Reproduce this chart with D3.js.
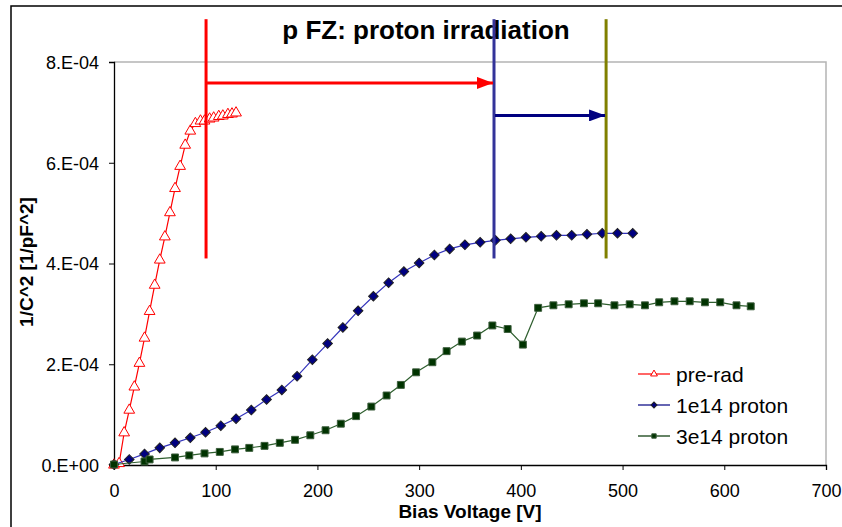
<!DOCTYPE html>
<html>
<head>
<meta charset="utf-8">
<script src="https://cdn.jsdelivr.net/npm/d3@7"></script>
<style>
  body { margin: 0; background: #fff; }
  svg text { font-family: Arial, "Liberation Sans", sans-serif; }
</style>
</head>
<body>
<div id="chart"></div>
<script>
// data (voltage in V, 1/C^2 in 1/pF^2)
const preRadV = [0, 5, 10, 15, 20, 25, 30, 35, 40, 45, 50, 55, 60, 65, 70, 75, 80, 85, 89, 94, 98, 103, 107, 112, 116, 120];
const preRadC = [0, 0.03e-4, 0.64e-4, 1.09e-4, 1.55e-4, 2.02e-4, 2.52e-4, 3.05e-4, 3.57e-4, 4.07e-4, 4.53e-4, 5.01e-4, 5.49e-4,
  5.93e-4, 6.35e-4, 6.63e-4, 6.78e-4, 6.83e-4, 6.83e-4, 6.87e-4, 6.89e-4, 6.92e-4, 6.93e-4, 6.96e-4, 6.97e-4, 6.99e-4];

const p1e14V = [0, 15, 30, 45, 60, 75, 90, 105, 120, 135, 150, 165, 180, 195, 210, 225, 240, 255, 270, 285, 300, 315, 330,
  345, 360, 375, 390, 405, 420, 435, 450, 465, 480, 495, 510];
const p1e14C = [0.01e-4, 0.11e-4, 0.22e-4, 0.34e-4, 0.44e-4, 0.54e-4, 0.65e-4, 0.78e-4, 0.92e-4, 1.09e-4, 1.30e-4, 1.49e-4,
  1.76e-4, 2.09e-4, 2.41e-4, 2.73e-4, 3.06e-4, 3.35e-4, 3.62e-4, 3.84e-4, 4.01e-4, 4.17e-4, 4.29e-4, 4.37e-4, 4.42e-4,
  4.46e-4, 4.49e-4, 4.52e-4, 4.54e-4, 4.56e-4, 4.56e-4, 4.58e-4, 4.60e-4, 4.60e-4, 4.60e-4];

const p3e14V = [0, 30, 35, 60, 74, 89, 104, 119, 133, 148, 163, 178, 193, 208, 223, 238, 253, 268, 282, 297, 313, 327, 342,
  357, 372, 387, 402, 417, 432, 447, 462, 476, 492, 507, 522, 536, 551, 566, 581, 596, 612, 626];
const p3e14C = [0.01e-4, 0.07e-4, 0.11e-4, 0.15e-4, 0.19e-4, 0.23e-4, 0.26e-4, 0.31e-4, 0.34e-4, 0.38e-4, 0.44e-4, 0.50e-4,
  0.59e-4, 0.69e-4, 0.82e-4, 0.97e-4, 1.16e-4, 1.38e-4, 1.59e-4, 1.84e-4, 2.04e-4, 2.26e-4, 2.45e-4, 2.57e-4, 2.77e-4,
  2.70e-4, 2.39e-4, 3.12e-4, 3.17e-4, 3.19e-4, 3.21e-4, 3.21e-4, 3.17e-4, 3.19e-4, 3.17e-4, 3.23e-4, 3.25e-4, 3.25e-4,
  3.23e-4, 3.23e-4, 3.17e-4, 3.15e-4];

const xTicks = [0, 100, 200, 300, 400, 500, 600, 700];
const yTicks = [0, 2e-4, 4e-4, 6e-4, 8e-4];
const seriesNames = ["pre-rad", "1e14 proton", "3e14 proton"];

// depletion markers drawn on top (voltage, line ends in 1/pF^2)
const depletionV = [90.5, 373.6, 483.8];
const depletionColors = ["#ff0000", "#333399", "#808000"];
const depletionSpan = [4.1e-4, 8.85e-4];
const arrowLevels = [7.585e-4, 6.94e-4];
const arrowColors = ["#ff0000", "#000080"];

const width = 842, height = 527;
const margins = { top: 62, right: 16, bottom: 62, left: 114 };

const x = d3.scaleLinear().domain([0, 700]).range([margins.left, width - margins.right]);
const y = d3.scaleLinear().domain([0, 8e-4]).range([height - margins.bottom, margins.top]);

const fmtE = d => {
  const [m, e] = d.toExponential(0).split("e");
  const sign = e[0] === "-" ? "-" : "+";
  return m + ".E" + sign + String(Math.abs(+e)).padStart(2, "0");
};

const svg = d3.select("#chart").append("svg")
  .attr("width", width)
  .attr("height", height);

// chart area frame
svg.append("rect")
  .attr("x", 11).attr("y", 6)
  .attr("width", width + 20).attr("height", height + 20)
  .attr("fill", "none").attr("stroke", "#000").attr("stroke-width", 1.5);

// plot area border (top/right grey)
svg.append("path")
  .attr("d", `M${x(0)},${y(8e-4)}H${x(700)}V${y(0)}`)
  .attr("fill", "none").attr("stroke", "#b4b4b4").attr("stroke-width", 1.5);

// axes
const xAxis = svg.append("g")
  .attr("transform", `translate(0,${y(0)})`)
  .call(d3.axisBottom(x).tickValues(xTicks).tickSize(5).tickPadding(14).tickFormat(d3.format("d")));
const yAxis = svg.append("g")
  .attr("transform", `translate(${x(0)},0)`)
  .call(d3.axisLeft(y).tickValues(yTicks).tickSize(5).tickPadding(10).tickFormat(fmtE));
[xAxis, yAxis].forEach(g => {
  g.select(".domain").attr("stroke", "#000").attr("stroke-width", 1.3);
  g.selectAll(".tick line").attr("stroke", "#000");
  g.selectAll(".tick text").attr("font-size", 18).attr("fill", "#000")
    .style("font-family", "Arial, 'Liberation Sans', sans-serif");
});
yAxis.selectAll(".tick text").attr("dy", "0.36em");

// axis titles
svg.append("text")
  .attr("x", 470).attr("y", 518)
  .attr("text-anchor", "middle")
  .attr("font-size", 19).attr("font-weight", "bold")
  .text("Bias Voltage [V]");

svg.append("text")
  .attr("transform", "translate(33,262) rotate(-90)")
  .attr("text-anchor", "middle")
  .attr("font-size", 19).attr("font-weight", "bold")
  .text("1/C^2 [1/pF^2]");

svg.append("text")
  .attr("x", 426).attr("y", 39)
  .attr("text-anchor", "middle")
  .attr("font-size", 26).attr("font-weight", "bold")
  .text("p FZ: proton irradiation");

// series
const series = [
  { name: seriesNames[0], v: preRadV, c: preRadC, line: "#ff0000", fill: "#fff", stroke: "#ff0000", shape: d3.symbolTriangle, size: 50, rot: 0 },
  { name: seriesNames[1], v: p1e14V, c: p1e14C, line: "#3333bb", fill: "#000080", stroke: "#222", shape: d3.symbolSquare, size: 46, rot: 45 },
  { name: seriesNames[2], v: p3e14V, c: p3e14C, line: "#2f5f2f", fill: "#003300", stroke: "#3d5e3d", shape: d3.symbolSquare, size: 48, rot: 0 }
];

const line = d3.line().x(d => x(d[0])).y(d => y(d[1]));

series.forEach(s => {
  const pts = s.v.map((v, i) => [v, s.c[i]]);
  const g = svg.append("g");
  g.append("path")
    .attr("d", line(pts))
    .attr("fill", "none").attr("stroke", s.line).attr("stroke-width", 1.2);
  g.selectAll("path.pt")
    .data(pts)
    .join("path")
    .attr("class", "pt")
    .attr("d", d3.symbol(s.shape, s.size)())
    .attr("transform", d => `translate(${x(d[0])},${y(d[1])}) rotate(${s.rot})`)
    .attr("fill", s.fill).attr("stroke", s.stroke).attr("stroke-width", 1);
});

// legend
const legend = svg.append("g");
series.forEach((s, i) => {
  const ly = 374 + i * 31;
  legend.append("line")
    .attr("x1", 638).attr("x2", 670).attr("y1", ly).attr("y2", ly)
    .attr("stroke", i === 0 ? "#ff0000" : i === 1 ? "#000080" : "#003300").attr("stroke-width", 1.2);
  legend.append("path")
    .attr("d", d3.symbol(s.shape, s.size * 0.4)())
    .attr("transform", `translate(654,${ly}) rotate(${s.rot})`)
    .attr("fill", s.fill).attr("stroke", s.stroke);
  legend.append("text")
    .attr("x", 676).attr("y", ly).attr("dy", "0.36em")
    .attr("font-size", 21)
    .text(s.name);
});

// depletion lines and arrows
const defs = svg.append("defs");
arrowColors.forEach((c, i) => {
  defs.append("marker")
    .attr("id", "arrow" + i)
    .attr("markerUnits", "userSpaceOnUse")
    .attr("viewBox", "0 0 16 12")
    .attr("refX", 16).attr("refY", 6)
    .attr("markerWidth", 16).attr("markerHeight", 12)
    .attr("orient", "auto")
    .append("path").attr("d", "M0,0L16,6L0,12Z").attr("fill", c);
});

depletionV.forEach((v, i) => {
  svg.append("line")
    .attr("x1", x(v)).attr("x2", x(v))
    .attr("y1", y(depletionSpan[0])).attr("y2", y(depletionSpan[1]))
    .attr("stroke", depletionColors[i]).attr("stroke-width", 3);
});
arrowLevels.forEach((lv, i) => {
  svg.append("line")
    .attr("x1", x(depletionV[i]) + 1).attr("x2", x(depletionV[i + 1]) - 1)
    .attr("y1", y(lv)).attr("y2", y(lv))
    .attr("stroke", arrowColors[i]).attr("stroke-width", 3)
    .attr("marker-end", `url(#arrow${i})`);
});
</script>
</body>
</html>
